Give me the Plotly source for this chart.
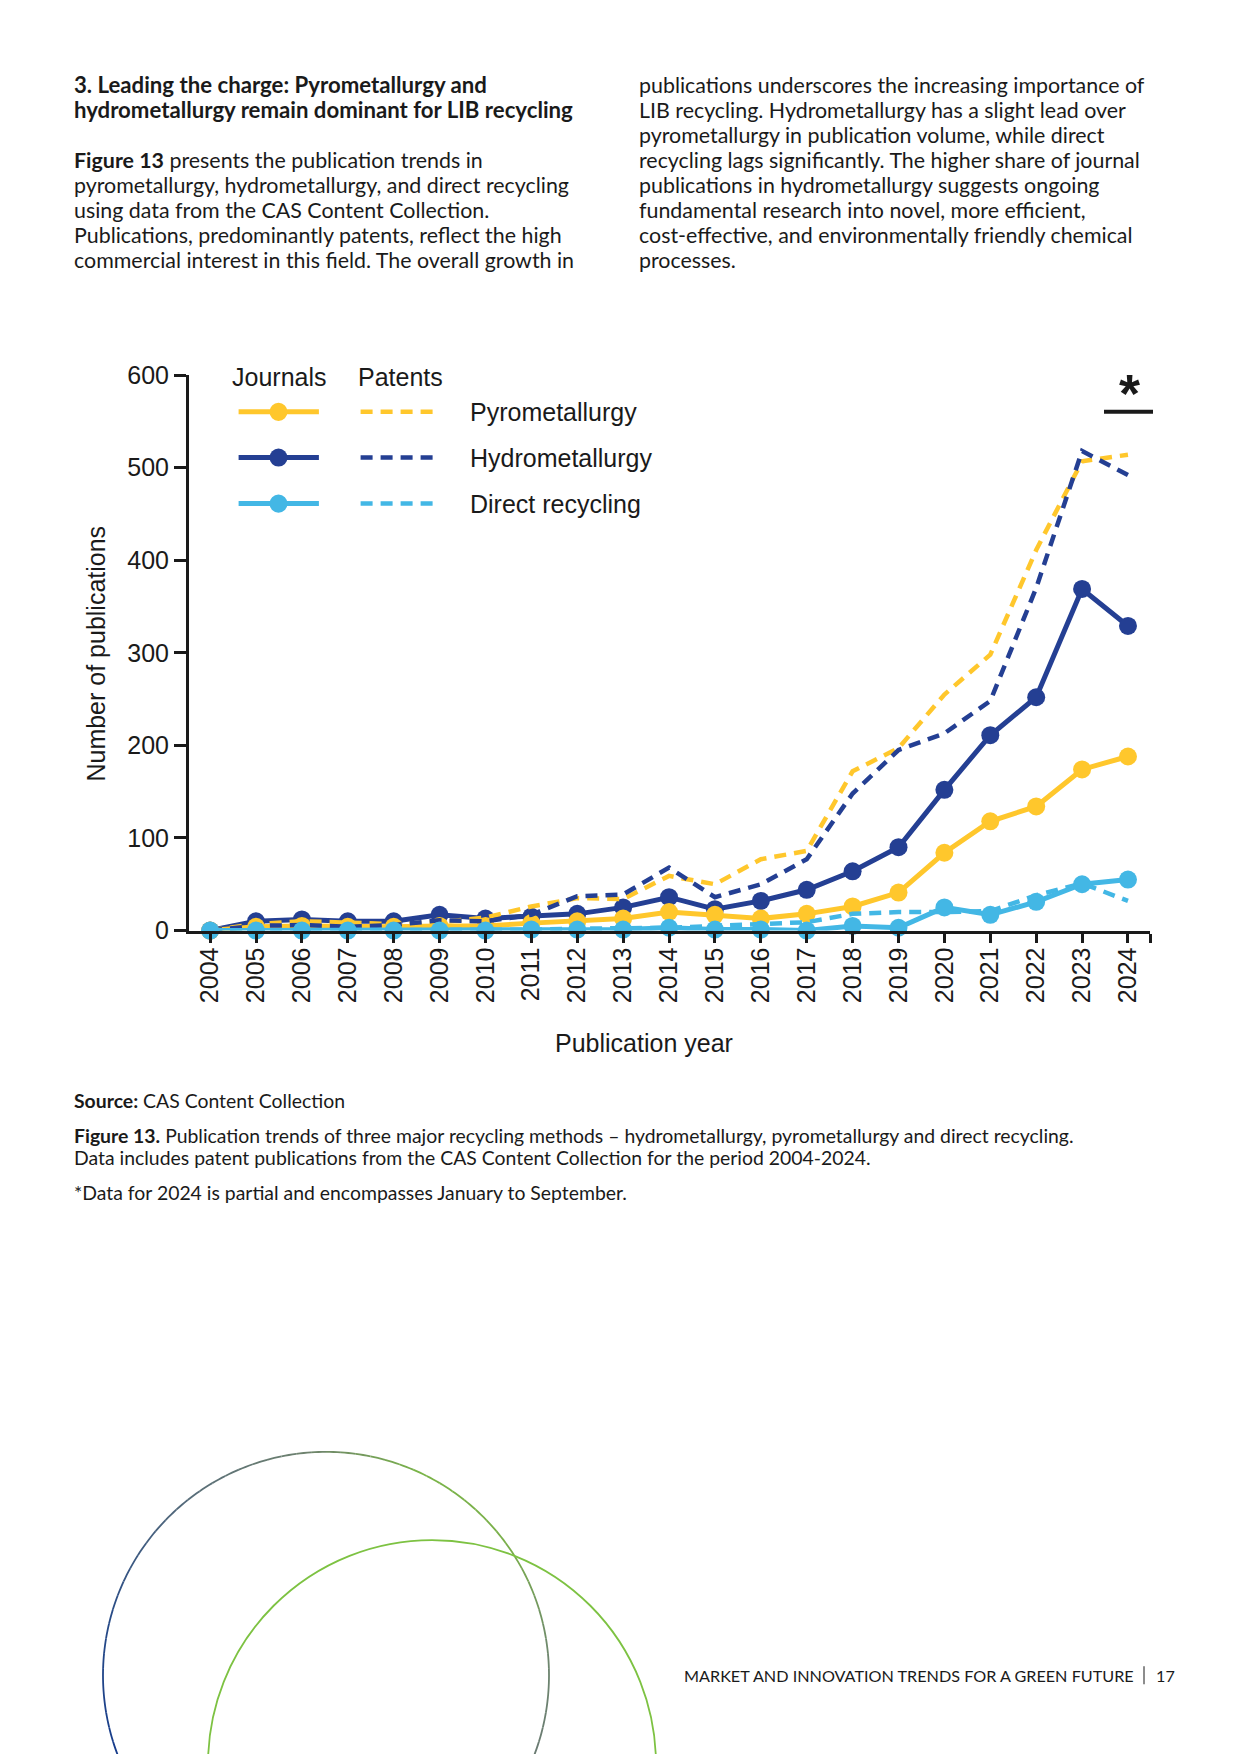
import math
import plotly.graph_objects as go

# ---------------- data ----------------
years = list(range(2004, 2025))
year_labels = [str(y) for y in years]
journals_pyro = [0, 4, 5, 4, 4, 5, 5, 8, 10, 13, 20, 17, 13, 18, 26, 41, 84, 118, 134, 174, 188]
journals_hydro = [0, 10, 12, 10, 10, 17, 13, 15, 18, 25, 36, 23, 32, 44, 64, 90, 152, 211, 252, 369, 329]
journals_direct = [0, 0, 0, 0, 0, 0, 0, 1, 1, 1, 3, 1, 1, 0, 5, 3, 25, 17, 31, 50, 55]
patents_pyro = [0, 7, 10, 8, 7, 9, 14, 26, 35, 34, 59, 50, 77, 86, 172, 197, 255, 298, 411, 507, 514]
patents_hydro = [0, 5, 6, 4, 6, 11, 10, 17, 37, 39, 68, 36, 50, 77, 148, 195, 213, 248, 370, 518, 492]
patents_direct = [0, 0, 0, 0, 0, 0, 0, 1, 2, 2, 3, 5, 7, 9, 18, 20, 20, 21, 38, 51, 32]
y_ticks = [0, 100, 200, 300, 400, 500, 600]
method_names = ["Pyrometallurgy", "Hydrometallurgy", "Direct recycling"]

# ---------------- style ----------------
W, H = 1240, 1754
YELLOW = "#FFC72C"
NAVY = "#243F93"
SKY = "#43B7E5"
INK = "#1a1a1a"
CHART_FONT = "Liberation Sans, Arial, sans-serif"
PAGE_FONT = "Lato, Noto Sans, sans-serif"
DASH = "12px,8px"

# vertical calibration of the page (target px -> figure px)
V_OFF, V_SCALE = 14.5, 0.9824


def px(x):
    return x / W


def py(y):
    return 1 - ((y - V_OFF) / V_SCALE) / H


fig = go.Figure()

colors = [YELLOW, NAVY, SKY]
journals = [journals_pyro, journals_hydro, journals_direct]
patents = [patents_pyro, patents_hydro, patents_direct]

order = [("j", 1), ("j", 0), ("p", 0), ("p", 1), ("p", 2), ("j", 2)]
for kind, i in order:
    if kind == "j":
        fig.add_trace(go.Scatter(
            x=years, y=journals[i], mode="lines+markers",
            line=dict(color=colors[i], width=5),
            marker=dict(color=colors[i], size=18),
            cliponaxis=False, showlegend=False,
            name=method_names[i] + " (journals)"))
    else:
        fig.add_trace(go.Scatter(
            x=years, y=patents[i], mode="lines",
            line=dict(color=colors[i], width=4.5, dash=DASH),
            cliponaxis=False, showlegend=False,
            name=method_names[i] + " (patents)"))

x0_px, x1_px = 189, 1150
y0_px, y600_px = 929.5, 375
fig.update_layout(
    width=W, height=H,
    margin=dict(l=0, r=0, t=0, b=0),
    paper_bgcolor="white", plot_bgcolor="white",
    showlegend=False,
    xaxis=dict(
        domain=[px(x0_px), px(x1_px)],
        range=[2003.54, 2024.48],
        tickvals=years + [2024.48], ticktext=year_labels + [""],
        tickangle=-90, ticks="outside", ticklen=9, tickwidth=2.5,
        ticklabelstandoff=-5,
        tickcolor=INK, showline=True, linecolor=INK, linewidth=3,
        showgrid=False, zeroline=False,
        tickfont=dict(family=CHART_FONT, size=25, color=INK),
    ),
    yaxis=dict(
        domain=[py(y0_px), py(y600_px)],
        range=[0, 600], tickvals=y_ticks,
        ticks="outside", ticklen=12, tickwidth=2.5, tickcolor=INK,
        showline=True, linecolor=INK, linewidth=3,
        showgrid=False, zeroline=False,
        tickfont=dict(family=CHART_FONT, size=25, color=INK),
    ),
)

ann = []


def text(x, y, s, size, family=PAGE_FONT, anchor="left", color=INK, angle=0, yanchor="middle"):
    ann.append(dict(x=px(x), y=py(y), xref="paper", yref="paper", text=s,
                    showarrow=False, xanchor=anchor, yanchor=yanchor,
                    textangle=angle,
                    font=dict(family=family, size=size, color=color)))


# axis titles
text(644, 1042, "Publication year", 25, CHART_FONT, "center")
text(96, 653, "Number of publications", 25, CHART_FONT, "center", angle=-90)

# legend
text(279, 377, "Journals", 25, CHART_FONT, "center")
text(400, 377, "Patents", 25, CHART_FONT, "center")
shapes = []
rows = [411.7, 457.3, 503.3]
for i, ry in enumerate(rows):
    shapes.append(dict(type="line", xref="paper", yref="paper",
                       x0=px(238.6), x1=px(318.9), y0=py(ry), y1=py(ry),
                       line=dict(color=colors[i], width=5)))
    r = 9
    shapes.append(dict(type="circle", xref="paper", yref="paper",
                       x0=px(278.5 - r), x1=px(278.5 + r), y0=py(ry + r), y1=py(ry - r),
                       fillcolor=colors[i], line=dict(color=colors[i], width=0)))
    shapes.append(dict(type="line", xref="paper", yref="paper",
                       x0=px(360.6), x1=px(437.7), y0=py(ry), y1=py(ry),
                       line=dict(color=colors[i], width=4.5, dash=DASH)))
    text(468, ry, method_names[i], 25, CHART_FONT)

# partial-data marker
text(1129, 393, "<b>*</b>", 54, CHART_FONT, "center")
shapes.append(dict(type="line", xref="paper", yref="paper",
                   x0=px(1104), x1=px(1153), y0=py(411.7), y1=py(411.7),
                   line=dict(color=INK, width=4)))

# page text - left column
LX, RX = 72, 637
text(LX, 85, "<b>3. Leading the charge: Pyrometallurgy and</b>", 22.2)
text(LX, 110, "<b>hydrometallurgy remain dominant for LIB recycling</b>", 22.2)
left_body = [
    "<b>Figure 13</b> presents the publication trends in",
    "pyrometallurgy, hydrometallurgy, and direct recycling",
    "using data from the CAS Content Collection.",
    "Publications, predominantly patents, reflect the high",
    "commercial interest in this field. The overall growth in",
]
for k, s in enumerate(left_body):
    text(LX, 160 + 25 * k, s, 21.4)
right_body = [
    "publications underscores the increasing importance of",
    "LIB recycling. Hydrometallurgy has a slight lead over",
    "pyrometallurgy in publication volume, while direct",
    "recycling lags significantly. The higher share of journal",
    "publications in hydrometallurgy suggests ongoing",
    "fundamental research into novel, more efficient,",
    "cost-effective, and environmentally friendly chemical",
    "processes.",
]
for k, s in enumerate(right_body):
    text(RX, 85 + 25 * k, s, 21.4)

# source & caption
text(LX, 1099, "<b>Source:</b> CAS Content Collection", 19.4)
text(LX, 1134.5, "<b>Figure 13.</b> Publication trends of three major recycling methods \u2013 hydrometallurgy, pyrometallurgy and direct recycling.", 19.4)
text(LX, 1156, "Data includes patent publications from the CAS Content Collection for the period 2004-2024.", 19.4)
text(LX, 1191, "*Data for 2024 is partial and encompasses January to September.", 19.4)

# footer
text(682, 1673, "MARKET AND INNOVATION TRENDS FOR A GREEN FUTURE", 16.2)
shapes.append(dict(type="line", xref="paper", yref="paper",
                   x0=px(1144), x1=px(1144), y0=py(1664), y1=py(1682),
                   line=dict(color=INK, width=1)))
text(1154, 1673, "17", 16.2)


# decorative circles
def lerp_color(stops, a):
    for (a0, c0), (a1, c1) in zip(stops, stops[1:]):
        if a0 >= a >= a1:
            t = (a0 - a) / (a0 - a1)
            c = [round(c0[j] + (c1[j] - c0[j]) * t) for j in range(3)]
            return "rgb(%d,%d,%d)" % tuple(c)
    return "rgb(%d,%d,%d)" % stops[-1][1]


stops = [(205, (20, 58, 140)), (165, (40, 75, 135)), (125, (90, 110, 120)),
         (95, (110, 130, 110)), (65, (122, 180, 72)), (35, (122, 175, 75)),
         (5, (110, 135, 110)), (-25, (105, 120, 115))]
cx, cy, rr = 326, 1673, 223
n = 60
a_start, a_end = 205, -25
for k in range(n):
    a0 = a_start + (a_end - a_start) * k / n
    a1 = a_start + (a_end - a_start) * (k + 1) / n
    pts = []
    for j in range(5):
        a = math.radians(a0 + (a1 - a0) * j / 4)
        pts.append((cx + rr * math.cos(a), cy - rr * math.sin(a)))
    path = "M " + " L ".join("%.5f,%.5f" % (px(p[0]), py(p[1])) for p in pts)
    shapes.append(dict(type="path", xref="paper", yref="paper", path=path,
                       line=dict(color=lerp_color(stops, (a0 + a1) / 2), width=1.8)))

cx2, cy2, r2 = 432, 1762, 224
shapes.append(dict(type="circle", xref="paper", yref="paper",
                   x0=px(cx2 - r2), x1=px(cx2 + r2), y0=py(cy2 + r2), y1=py(cy2 - r2),
                   line=dict(color="#7DC242", width=1.8)))

fig.update_layout(annotations=ann, shapes=shapes)

fig.write_html("out.html",
               config={"displayModeBar": False},
               post_script="document.body.style.margin='0';document.body.style.overflow='hidden';")
